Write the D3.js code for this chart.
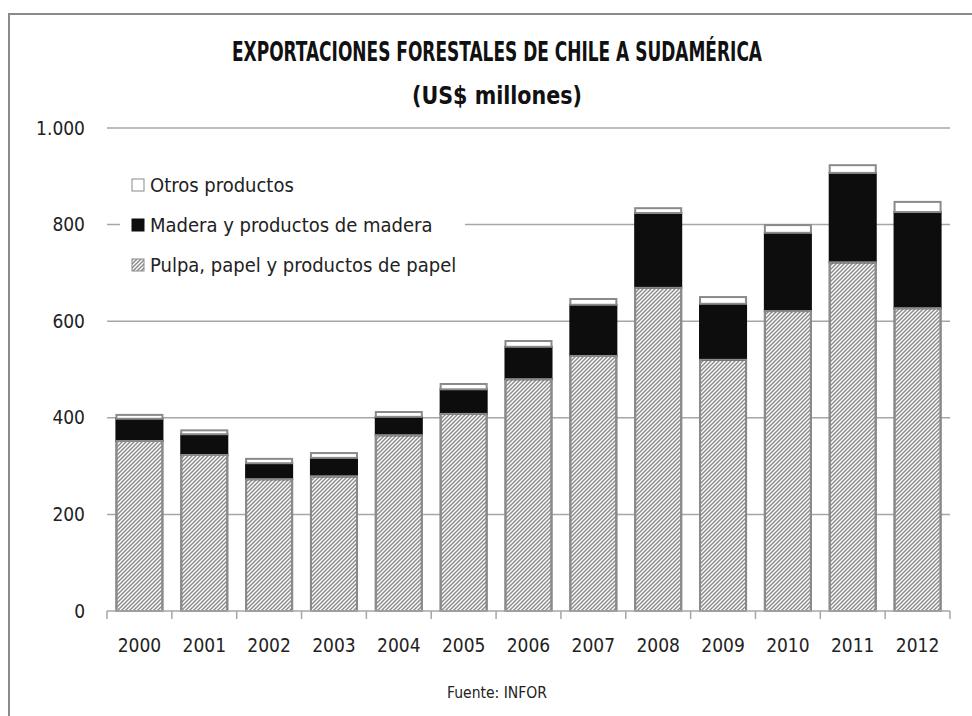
<!DOCTYPE html>
<html><head><meta charset="utf-8">
<script src="https://cdn.jsdelivr.net/npm/d3@7"></script>
<style>
html,body{margin:0;padding:0;background:#fff;}
svg{display:block;}
text{font-family:"Liberation Sans Narrow","DejaVu Sans Condensed","Roboto Condensed",sans-serif;}
</style></head>
<body>
<svg id="c" width="972" height="716"></svg>
<script>
const years = ["2000","2001","2002","2003","2004","2005","2006","2007","2008","2009","2010","2011","2012"];
const pulpa  = [352,323,273,279,364,408,480,528,669,520,621,722,627];
const madera = [46,43,33,38,38,51,67,106,155,116,162,185,199];
const otros  = [8,8,9,10,10,11,12,12,10,14,16,16,21];
const seriesNames = ["Pulpa, papel y productos de papel","Madera y productos de madera","Otros productos"];
const yTicks = [0,200,400,600,800,1000];

const svg = d3.select("#c");
const W = 972, H = 716;
const m = {left:107, right:22, top:128, bottom:105};
const x = d3.scaleBand().domain(years).range([m.left, W - m.right]).paddingInner(0.29).paddingOuter(0.145);
const y = d3.scaleLinear().domain([0,1000]).range([611, 128]);

const defs = svg.append("defs");
const pat = defs.append("pattern").attr("id","hatch").attr("patternUnits","userSpaceOnUse")
  .attr("width",4).attr("height",4);
pat.append("rect").attr("width",4).attr("height",4).attr("fill","#fff");
pat.append("path").attr("d","M-1,1 l2,-2 M0,4 l4,-4 M3,5 l2,-2").attr("stroke","#8c8c8c").attr("stroke-width",1.5);

// frame
svg.append("path").attr("d","M9,716 L9,14 L972,14").attr("fill","none").attr("stroke","#8a8a8a").attr("stroke-width",2);

// gridlines
svg.append("g").selectAll("line").data(yTicks.filter(d=>d>0)).join("line")
  .attr("x1", m.left).attr("x2", W - m.right)
  .attr("y1", d=>y(d)).attr("y2", d=>y(d))
  .attr("stroke","#a6a6a6").attr("stroke-width",1.5);

// y labels
const loc = d3.formatLocale({decimal:",", thousands:".", grouping:[3], currency:["$",""]});
const fmt = loc.format(",d");
svg.append("g").selectAll("text").data(yTicks).join("text")
  .attr("x", 85).attr("y", d=>y(d)).attr("dy","0.35em")
  .attr("text-anchor","end").attr("font-size",19).attr("fill","#222")
  .text(d=>fmt(d));

// stacked bars
const data = years.map((yr,i)=>({year:yr, p:pulpa[i], m:madera[i], o:otros[i]}));
const stack = d3.stack().keys(["p","m","o"])(data);
const fills = {p:"url(#hatch)", m:"#0d0d0d", o:"#ffffff"};
const strokes = {p:"#8a8a8a", m:"#0d0d0d", o:"#8a8a8a"};
stack.forEach(layer=>{
  svg.append("g").selectAll("rect").data(layer).join("rect")
    .attr("x", d=>x(d.data.year)).attr("width", x.bandwidth())
    .attr("y", d=>y(d[1])).attr("height", d=>y(d[0]) - y(d[1]))
    .attr("fill", fills[layer.key])
    .attr("stroke", strokes[layer.key]).attr("stroke-width", 2);
});
svg.append("g").selectAll("rect").data(stack[0]).join("rect")
  .attr("x", d=>x(d.data.year)).attr("width", x.bandwidth())
  .attr("y", d=>y(d[1])).attr("height", d=>y(d[0]) - y(d[1]))
  .attr("fill","none").attr("stroke","#8a8a8a").attr("stroke-width",2);

// x axis line and ticks
svg.append("line").attr("x1", m.left).attr("x2", W - m.right).attr("y1", y(0)).attr("y2", y(0))
  .attr("stroke","#a6a6a6").attr("stroke-width",1.5);
const edges = years.map(d=>x(d) - x.step()*x.paddingInner()/2).concat([W - m.right]);
svg.append("g").selectAll("line").data(edges).join("line")
  .attr("x1", d=>d).attr("x2", d=>d).attr("y1", y(0)).attr("y2", y(0)+8)
  .attr("stroke","#a6a6a6").attr("stroke-width",1.5);
svg.append("g").selectAll("text").data(years).join("text")
  .attr("x", d=>x(d)+x.bandwidth()/2).attr("y", 645).attr("dy","0.35em")
  .attr("text-anchor","middle").attr("font-size",19).attr("fill","#222")
  .text(d=>d);

// legend
const lg = svg.append("g");
lg.append("rect").attr("x",120).attr("y",168).attr("width",345).attr("height",112).attr("fill","#fff");
const legItems = [
  {name:seriesNames[2], fill:"#fff", stroke:"#8a8a8a", yy:185},
  {name:seriesNames[1], fill:"#0d0d0d", stroke:"#0d0d0d", yy:225},
  {name:seriesNames[0], fill:"url(#hatch)", stroke:"#8a8a8a", yy:265}
];
legItems.forEach(it=>{
  lg.append("rect").attr("x",132).attr("y",it.yy-6).attr("width",12).attr("height",12)
    .attr("fill",it.fill).attr("stroke",it.stroke).attr("stroke-width",1);
  lg.append("text").attr("x",150).attr("y",it.yy).attr("dy","0.35em")
    .attr("font-size",20).attr("fill","#222").text(it.name);
});

// titles
svg.append("text").attr("x",497).attr("y",52).attr("dy","0.35em").attr("text-anchor","middle")
  .attr("font-size",26).attr("font-weight","bold").attr("fill","#111")
  .attr("textLength",530).attr("lengthAdjust","spacingAndGlyphs")
  .text("EXPORTACIONES FORESTALES DE CHILE A SUDAMÉRICA");
svg.append("text").attr("x",497).attr("y",95).attr("dy","0.35em").attr("text-anchor","middle")
  .attr("font-size",25).attr("font-weight","bold").attr("fill","#111")
  .attr("textLength",170).attr("lengthAdjust","spacingAndGlyphs")
  .text("(US$ millones)");
svg.append("text").attr("x",497).attr("y",693).attr("dy","0.35em").attr("text-anchor","middle")
  .attr("font-size",15.5).attr("fill","#222").text("Fuente: INFOR");
</script>
</body></html>
